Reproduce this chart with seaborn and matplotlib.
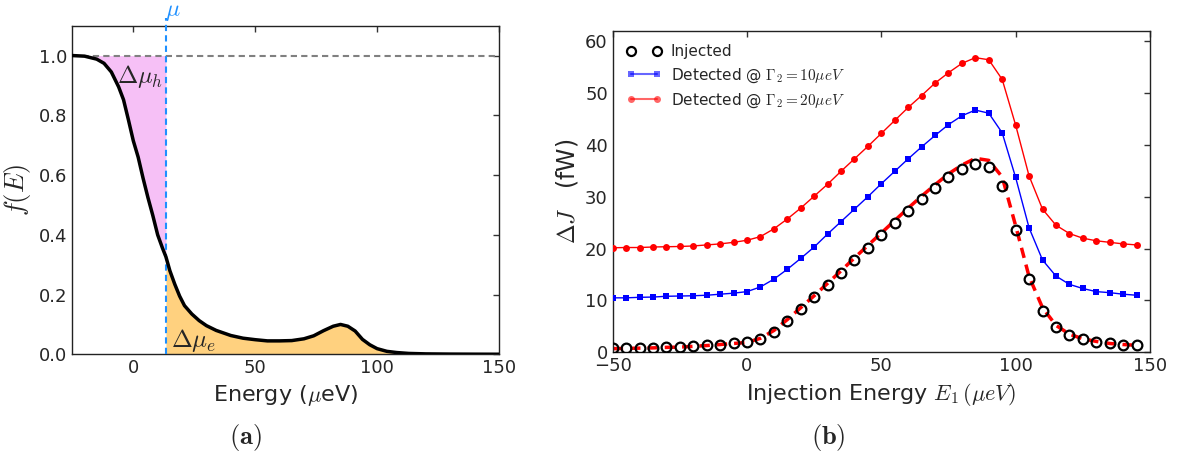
import numpy as np
import pandas as pd
import matplotlib
matplotlib.use("Agg")
import matplotlib.pyplot as plt
from matplotlib.lines import Line2D
import seaborn as sns

# ---------------- data: panel (a) ----------------
energy = [-25, -20, -15, -12, -9, -6, -4, -2, 0, 2, 4, 6, 8, 10, 12, 13.4, 15, 17, 19,
          21, 24, 27, 30, 34, 40, 45, 50, 55, 60, 65, 70, 74, 78, 82, 85, 88, 91, 94,
          97, 100, 104, 108, 113, 120, 130, 140, 150]
f_E = [1.0, 0.998, 0.988, 0.974, 0.945, 0.895, 0.852, 0.785, 0.715, 0.66, 0.59, 0.525,
       0.465, 0.40, 0.355, 0.326, 0.28, 0.235, 0.195, 0.163, 0.135, 0.113, 0.096, 0.080,
       0.063, 0.054, 0.049, 0.045, 0.045, 0.046, 0.052, 0.062, 0.079, 0.094, 0.100,
       0.094, 0.078, 0.05, 0.032, 0.019, 0.010, 0.006, 0.003, 0.0015, 0.0008, 0.0005,
       0.0003]
mu = 13.4

# ---------------- data: panel (b) ----------------
e1 = list(range(-50, 150, 5))
injected = [0.8, 0.8, 0.85, 0.9, 1.0, 1.0, 1.2, 1.35, 1.5, 1.7, 1.9, 2.6, 4.0, 6.1, 8.3,
            10.6, 12.9, 15.3, 17.8, 20.2, 22.6, 25.0, 27.3, 29.6, 31.7, 33.7, 35.3, 36.3,
            35.8, 32.0, 23.6, 14.1, 8.0, 4.9, 3.4, 2.5, 2.05, 1.7, 1.5, 1.4]
injected_fit = [0.7, 0.75, 0.8, 0.85, 0.95, 1.0, 1.15, 1.3, 1.5, 1.7, 1.9, 2.7, 4.2, 6.3,
                8.6, 10.9, 13.3, 15.7, 18.2, 20.6, 23.0, 25.4, 27.8, 30.1, 32.3, 34.4,
                36.1, 37.4, 37.0, 33.8, 24.4, 14.6, 8.6, 5.2, 3.5, 2.6, 2.1, 1.7, 1.5, 1.35]
det_10 = [10.5, 10.5, 10.6, 10.65, 10.8, 10.85, 10.9, 11.0, 11.2, 11.4, 11.7, 12.6, 14.1,
          16.0, 18.1, 20.3, 22.8, 25.2, 27.6, 30.0, 32.5, 34.9, 37.3, 39.6, 41.8, 43.9,
          45.6, 46.7, 46.1, 42.3, 33.7, 24.0, 17.8, 14.7, 13.1, 12.3, 11.7, 11.5, 11.2, 11.0]
det_20 = [20.15, 20.2, 20.2, 20.3, 20.35, 20.4, 20.5, 20.7, 20.9, 21.2, 21.6, 22.3, 23.8,
          25.7, 27.8, 30.1, 32.4, 34.9, 37.3, 39.7, 42.2, 44.7, 47.2, 49.5, 51.9, 53.9,
          55.7, 56.8, 56.4, 52.6, 43.8, 34.0, 27.6, 24.5, 22.9, 22.0, 21.5, 21.2, 20.9, 20.7]

labels_b = ["Injected",
            r"Detected @ $\Gamma_2=10\mu eV$",
            r"Detected @ $\Gamma_2=20\mu eV$"]

# ---------------- style ----------------
sns.set_style("white")
plt.rcParams["font.family"] = ["DejaVu Sans"]
plt.rcParams["mathtext.fontset"] = "cm"
plt.rcParams["axes.edgecolor"] = "#222222"
plt.rcParams["axes.linewidth"] = 1.0

fig = plt.figure(figsize=(11.78, 4.61), dpi=100)
axa = fig.add_axes([0.0614, 0.2314, 0.3622, 0.7129])
axb = fig.add_axes([0.5201, 0.2358, 0.4561, 0.6976])

# ---------------- panel (a) ----------------
dfa = pd.DataFrame({"E": energy, "f": f_E})
E = np.array(energy)
F = np.array(f_E)
axa.fill_between(E, F, 1.0, where=E <= mu, color="violet", alpha=0.5, lw=0)
axa.fill_between(E, 0, F, where=E >= mu, color="orange", alpha=0.5, lw=0)
axa.axhline(1.0, color="gray", ls="--", lw=1.5, dashes=(3, 2))
axa.plot([mu, mu], [0, 1.125], color="dodgerblue", ls="--", lw=1.5, dashes=(3, 2),
         clip_on=False, zorder=3)
sns.lineplot(data=dfa, x="E", y="f", ax=axa, color="black", lw=2.5,
             estimator=None, sort=False, zorder=4)
axa.text(mu + 3, 1.108, r"$\mu$", color="dodgerblue", fontsize=17,
         ha="center", va="bottom", clip_on=False)
axa.text(-6.5, 0.93, r"$\Delta\mu_h$", fontsize=17.5, ha="left", va="center")
axa.text(15.5, 0.045, r"$\Delta\mu_e$", fontsize=18, ha="left", va="center")
axa.set_xlim(-25, 150)
axa.set_ylim(0, 1.1)
axa.set_xticks([0, 50, 100, 150])
axa.set_yticks([0.0, 0.2, 0.4, 0.6, 0.8, 1.0])
axa.set_yticklabels(["0.0", "0.2", "0.4", "0.6", "0.8", "1.0"])
axa.set_xlabel(r"Energy ($\mu$eV)", fontsize=16)
axa.set_ylabel(r"$f(E)$", fontsize=19)
axa.tick_params(direction="in", top=True, right=True, length=4, width=1,
                labelsize=13, color="#333333")

# ---------------- panel (b) ----------------
dfb = pd.DataFrame({"E1": e1, "inj": injected, "fit": injected_fit,
                    "d10": det_10, "d20": det_20})
sns.lineplot(data=dfb, x="E1", y="fit", ax=axb, color="red", lw=2.5,
             estimator=None, zorder=2)
axb.lines[-1].set_dashes((3.0, 2.0))
sns.lineplot(data=dfb, x="E1", y="d10", ax=axb, color="blue", lw=1.0,
             marker="s", markersize=5, markeredgewidth=0, estimator=None, zorder=3)
sns.lineplot(data=dfb, x="E1", y="d20", ax=axb, color="red", lw=1.0,
             marker="o", markersize=5, markeredgewidth=0, estimator=None, zorder=3)
axb.plot(dfb["E1"], dfb["inj"], ls="none", marker="o", markersize=7,
         markerfacecolor="none", markeredgecolor="black", markeredgewidth=1.6, zorder=4)

handles = [
    Line2D([], [], ls="none", marker="o", markersize=6.5, markerfacecolor="none",
           markeredgecolor="black", markeredgewidth=1.6),
    Line2D([], [], color="blue", lw=1.5, alpha=0.6, marker="s", markersize=5,
           markerfacecolor="blue", markeredgewidth=0),
    Line2D([], [], color="red", lw=1.5, alpha=0.6, marker="o", markersize=5,
           markerfacecolor="red", markeredgewidth=0),
]
axb.legend(handles, labels_b, loc="upper left", frameon=False, numpoints=2,
           fontsize=11, handlelength=2.3, labelspacing=0.45, borderaxespad=0.5,
           handletextpad=0.6)
axb.set_xlim(-50, 150)
axb.set_ylim(0, 62)
axb.set_xticks([-50, 0, 50, 100, 150])
axb.set_yticks([0, 10, 20, 30, 40, 50, 60])
axb.set_xlabel(r"Injection Energy $E_1\,(\mu eV)$", fontsize=16)
axb.set_ylabel(r"$\Delta J$   (fW)", fontsize=17)
axb.tick_params(direction="in", top=True, right=True, length=4, width=1,
                labelsize=13, color="#333333")

fig.text(0.208, 0.05, r"$\mathbf{(a)}$", fontsize=19, ha="center", va="center")
fig.text(0.703, 0.05, r"$\mathbf{(b)}$", fontsize=19, ha="center", va="center")

fig.savefig("out.png", dpi=100)
